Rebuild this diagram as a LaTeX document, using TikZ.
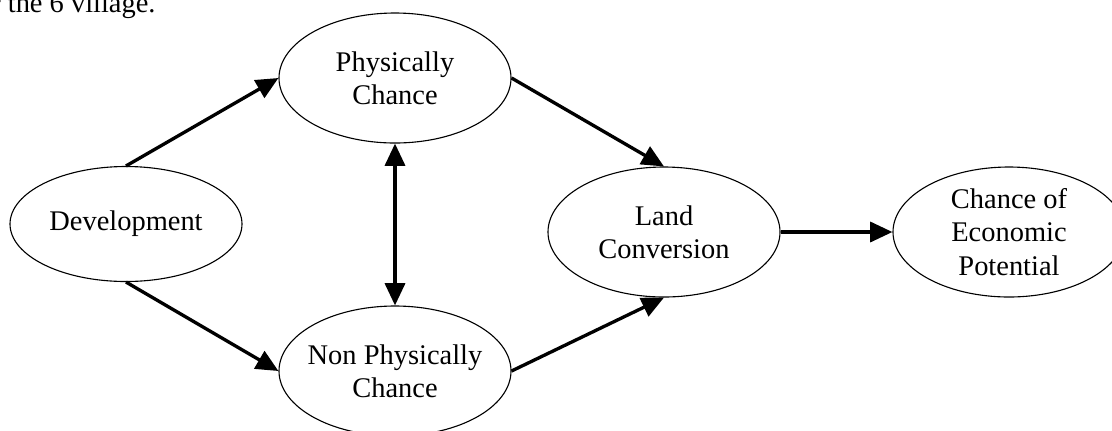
\documentclass[tikz,border=0pt]{standalone}
\usepackage{fontspec}
\setmainfont{Liberation Serif}
\usetikzlibrary{arrows.meta,shapes.geometric}

\begin{document}
\begin{tikzpicture}[x=0.45pt,y=-0.45pt,
  blob/.style={draw,ellipse,line width=.5pt,minimum width=104.4pt,minimum height=58.5pt,
    inner sep=-3pt,align=center,font=\fontsize{12.8}{15}\selectfont},
  flow/.style={line width=1.5pt,-{Triangle[length=10pt,width=9pt]}},
  both/.style={line width=1.5pt,{Triangle[length=10pt,width=9pt]}-{Triangle[length=10pt,width=9pt]}}]

\useasboundingbox (0,0) rectangle (1112,430);

% cut-off line of the text above
\node[anchor=base east,inner sep=0pt,font=\fontsize{12.8}{15}\selectfont] (txt) at (156,12) {r the 6 village.};

\node[blob,minimum height=51.75pt] (dev) at (126,224) {Development};
\node[blob] (phy) at (395,78) {Physically\\Chance};
\node[blob] (non) at (395,371) {Non Physically\\Chance};
\node[blob] (land) at (664,232) {Land\\Conversion};
\node[blob] (eco) at (1009,232) {Chance of\\Economic\\Potential};

\draw[flow] (dev.north) -- (phy.west);
\draw[flow] (dev.south) -- (non.west);
\draw[both] (phy.south) -- (non.north);
\draw[flow] (phy.east) -- (land.north);
\draw[flow] (non.east) -- (land.south);
\draw[flow] (land.east) -- (eco.west);
\end{tikzpicture}
\end{document}
